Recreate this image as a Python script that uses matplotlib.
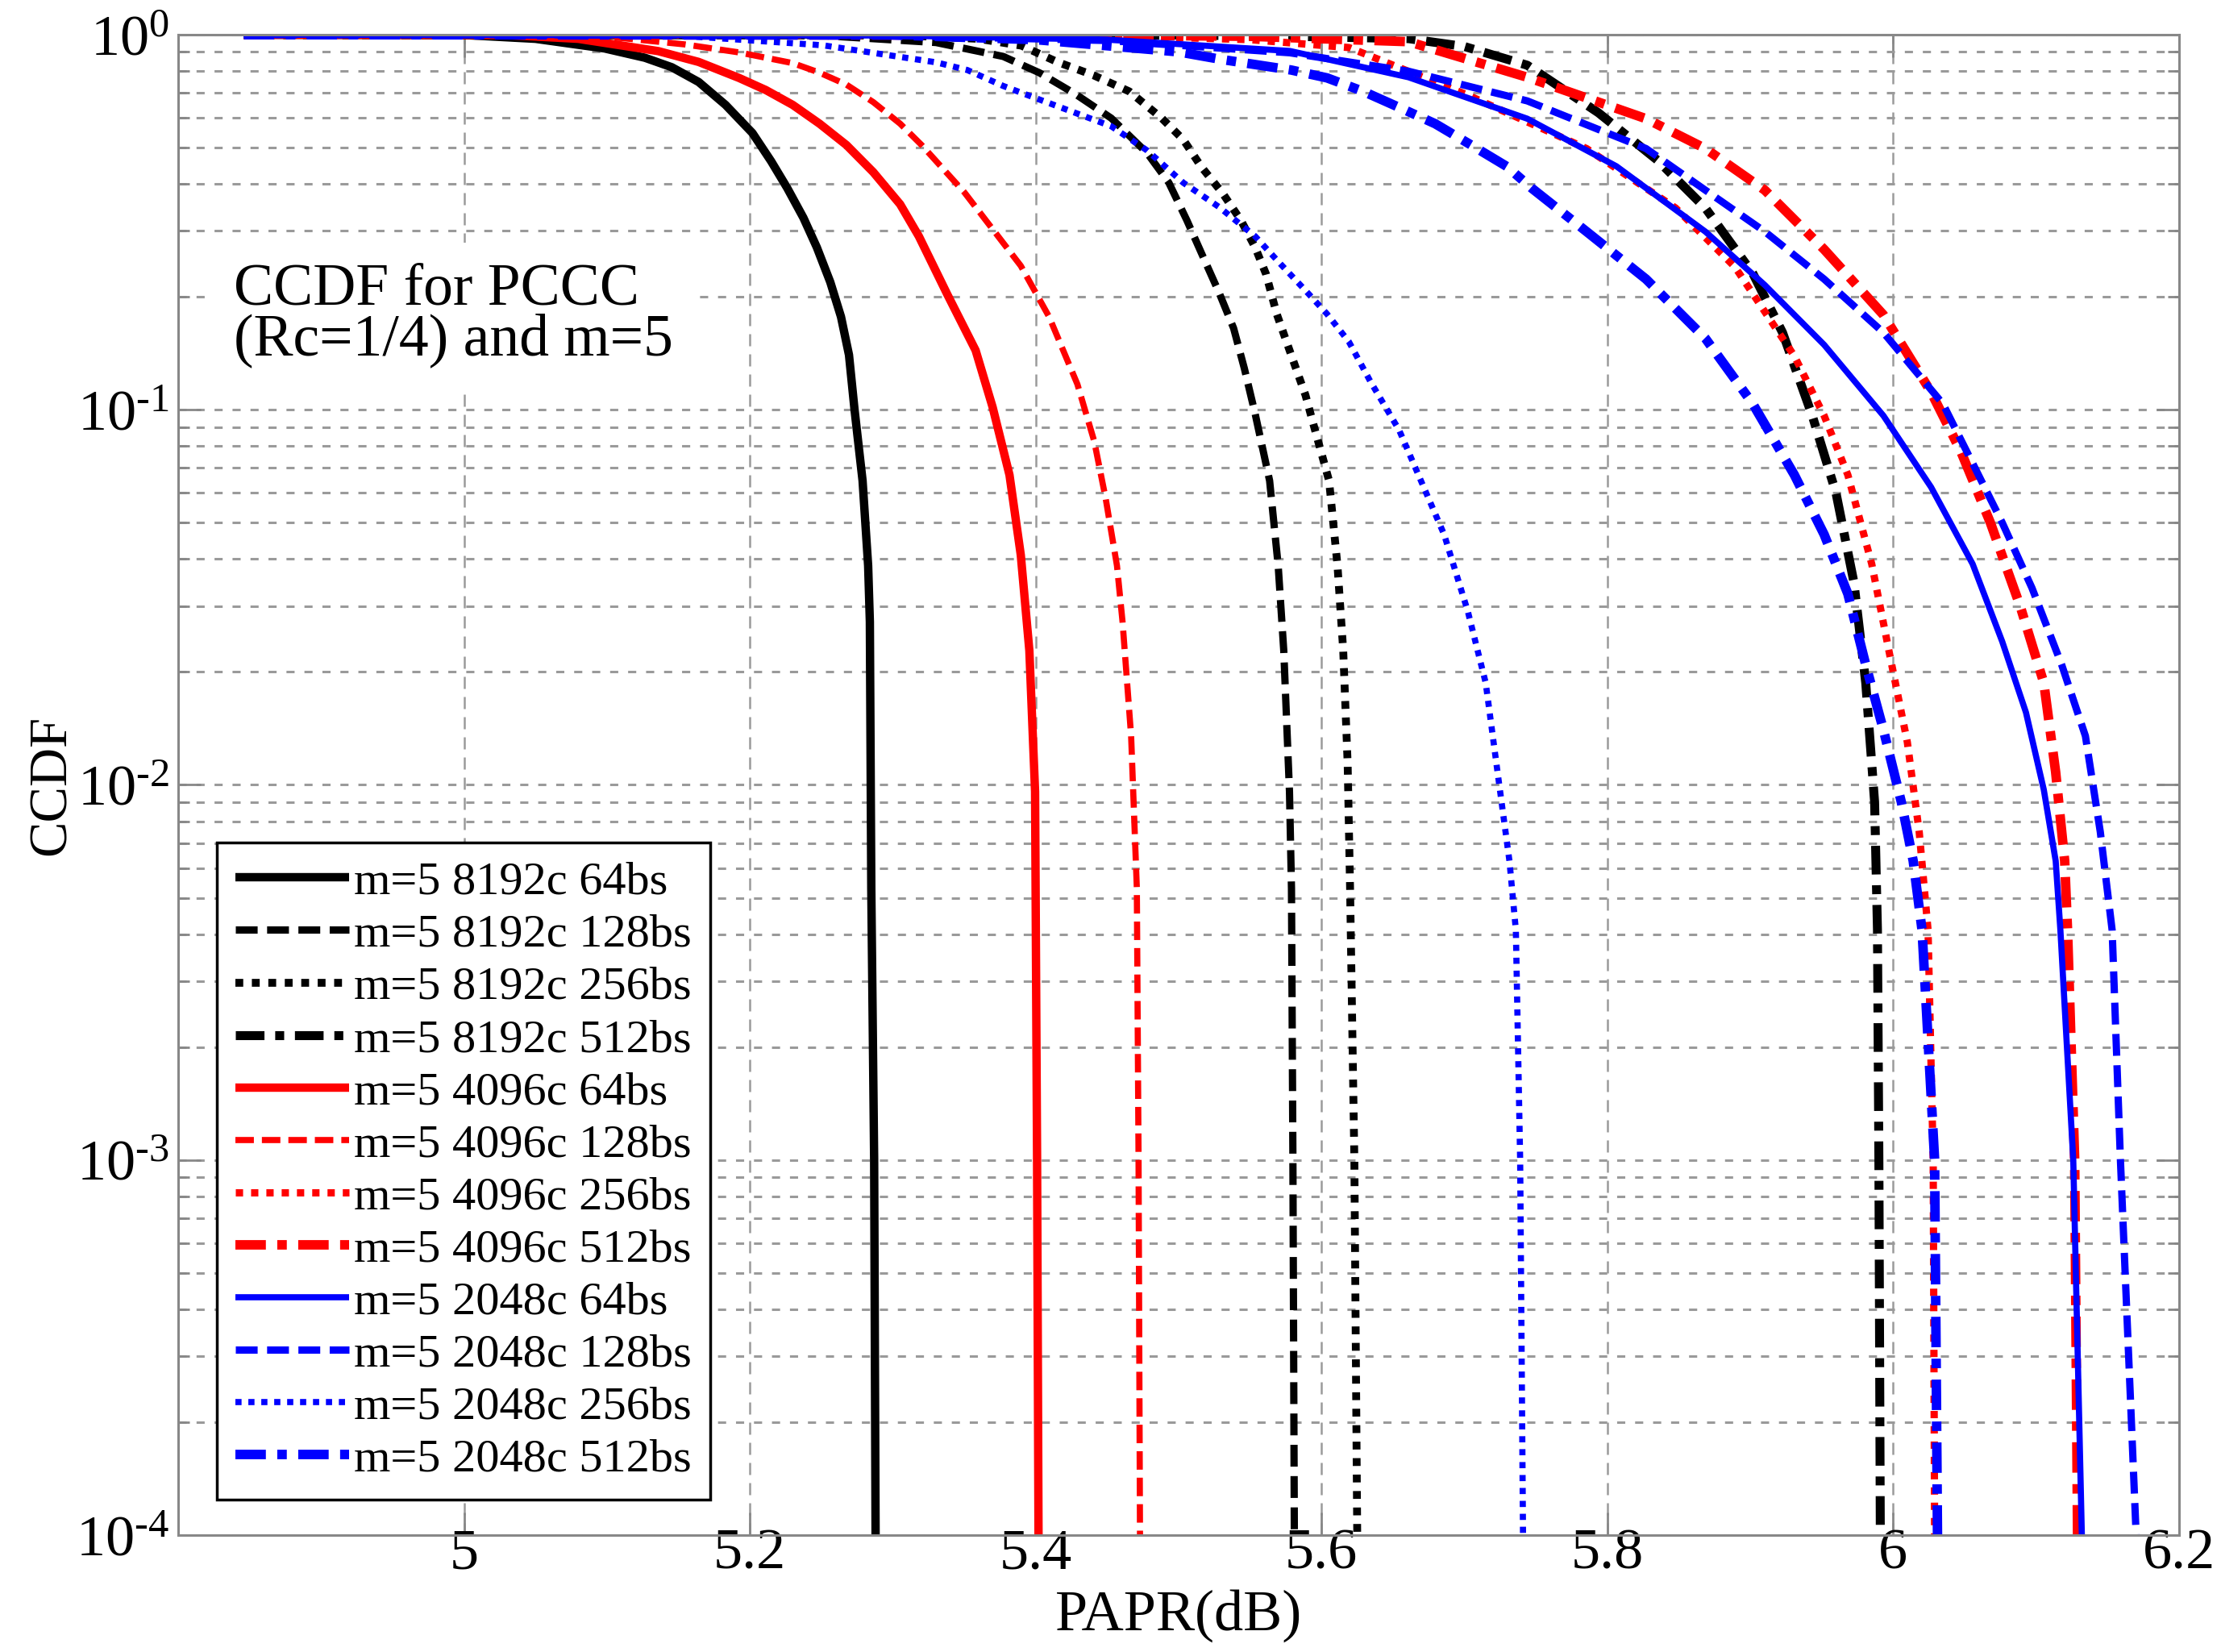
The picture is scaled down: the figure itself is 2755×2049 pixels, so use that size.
import matplotlib
matplotlib.use("Agg")
import matplotlib.pyplot as plt
from matplotlib.ticker import FixedLocator, LogLocator, NullFormatter, FuncFormatter

# PAPR (dB) / CCDF pairs
x_8192_64 = [4.846, 5.00, 5.05, 5.0984, 5.1266, 5.1454, 5.1642, 5.183, 5.2018, 5.2149, 5.2262,
             5.2375, 5.2469, 5.2563, 5.2638, 5.2694, 5.2732, 5.2789, 5.2828, 5.284, 5.285,
             5.287, 5.288]
y_8192_64 = [1.0, 0.998, 0.975, 0.919, 0.868, 0.819, 0.748, 0.650, 0.547, 0.460, 0.390,
             0.325, 0.271, 0.219, 0.177, 0.140, 0.1007, 0.0647, 0.0384, 0.0272, 0.0053,
             1e-3, 1e-4]

x_8192_128 = [4.846, 5.25, 5.3303, 5.3773, 5.4025, 5.4277, 5.4529, 5.4781, 5.4932, 5.5058,
              5.5183, 5.5284, 5.5385, 5.546, 5.5536, 5.5637, 5.5697, 5.5736, 5.5776, 5.579,
              5.580, 5.581]
y_8192_128 = [1.0, 0.995, 0.953, 0.875, 0.792, 0.695, 0.599, 0.483, 0.403, 0.320,
              0.25, 0.205, 0.165, 0.129, 0.0975, 0.0647, 0.0384, 0.0228, 0.0096, 0.0053,
              1e-3, 1e-4]

x_8192_256 = [4.846, 5.30, 5.36, 5.39, 5.4151, 5.4403, 5.4655, 5.4882, 5.5033, 5.5158, 5.531,
              5.5436, 5.5536, 5.5612, 5.5687, 5.5788, 5.5888, 5.5939, 5.6053, 5.6112, 5.6152,
              5.6183, 5.62, 5.623, 5.625]
y_8192_256 = [1.0, 0.999, 0.975, 0.935, 0.846, 0.78, 0.706, 0.599, 0.525, 0.445, 0.377,
              0.320, 0.271, 0.230, 0.180, 0.140, 0.1094, 0.0928, 0.0647, 0.0384, 0.0228,
              0.0114, 0.0053, 1e-3, 1e-4]

x_8192_512 = [4.846, 5.50, 5.58, 5.6609, 5.70, 5.744, 5.7938, 5.8353, 5.8686, 5.9018, 5.9226,
              5.9434, 5.96, 5.9725, 5.9808, 5.987, 5.989, 5.990, 5.991]
y_8192_512 = [1.0, 0.998, 0.99, 0.976, 0.93, 0.829, 0.619, 0.462, 0.345, 0.231, 0.1606,
              0.0964, 0.06, 0.0347, 0.0187, 0.009, 0.0041, 1e-3, 1e-4]

x_4096_64 = [4.846, 5.03, 5.08, 5.136, 5.1642, 5.1924, 5.2112, 5.23, 5.2488, 5.2676, 5.2864,
             5.3052, 5.3183, 5.3382, 5.358, 5.3699, 5.3817, 5.3896, 5.3956, 5.3996, 5.401,
             5.402]
y_4096_64 = [1.0, 0.998, 0.975, 0.904, 0.846, 0.767, 0.712, 0.650, 0.579, 0.508, 0.430,
             0.353, 0.290, 0.203, 0.144, 0.1016, 0.067, 0.041, 0.0228, 0.0096, 1e-3, 1e-4]

x_4096_128 = [4.846, 5.06, 5.11, 5.1546, 5.1924, 5.23, 5.2488, 5.2676, 5.2864, 5.3052, 5.3202,
              5.3501, 5.3896, 5.4094, 5.4292, 5.441, 5.449, 5.4569, 5.4608, 5.4668, 5.4708,
              5.472, 5.473]
y_4096_128 = [1.0, 0.998, 0.98, 0.942, 0.897, 0.84, 0.792, 0.736, 0.661, 0.579, 0.508,
              0.38, 0.242, 0.177, 0.117, 0.0824, 0.058, 0.0384, 0.0272, 0.0135, 0.0053,
              1e-3, 1e-4]

x_4096_256 = [4.846, 5.45, 5.55, 5.6193, 5.7024, 5.7855, 5.8478, 5.8894, 5.9309, 5.9517, 5.9683,
              5.985, 5.9974, 6.0099, 6.0182, 6.0244, 6.028, 6.029]
y_4096_256 = [1.0, 0.995, 0.97, 0.924, 0.69, 0.497, 0.345, 0.24, 0.139, 0.0964, 0.067,
              0.0388, 0.0224, 0.013, 0.0075, 0.0041, 1e-3, 1e-4]

x_4096_512 = [4.846, 5.45, 5.55, 5.6609, 5.744, 5.8271, 5.8686, 5.9102, 5.9517, 5.9932, 6.0265,
              6.0473, 6.068, 6.0888, 6.1054, 6.1137, 6.12, 6.122, 6.127, 6.129]
y_4096_512 = [1.0, 0.998, 0.99, 0.958, 0.77, 0.597, 0.497, 0.385, 0.2676, 0.179, 0.1115,
              0.0775, 0.05, 0.03, 0.0187, 0.0108, 0.00627, 0.0041, 1e-3, 1e-4]

x_2048_64 = [4.846, 5.30, 5.45, 5.5778, 5.6609, 5.744, 5.8063, 5.8686, 5.9102, 5.9517, 5.9932,
             6.0265, 6.0556, 6.0763, 6.0929, 6.1054, 6.1137, 6.117, 6.126, 6.132]
y_2048_64 = [1.0, 0.995, 0.97, 0.905, 0.77, 0.597, 0.446, 0.2985, 0.215, 0.149, 0.0964,
             0.0622, 0.0388, 0.0241, 0.0156, 0.0097, 0.00627, 0.0041, 1e-3, 1e-4]

x_2048_128 = [4.846, 5.30, 5.45, 5.5778, 5.6609, 5.744, 5.8271, 5.8686, 5.9102, 5.9517, 5.9932,
              6.0348, 6.0556, 6.0763, 6.0971, 6.1179, 6.1345, 6.1449, 6.1532, 6.159, 6.170]
y_2048_128 = [1.0, 0.995, 0.965, 0.895, 0.799, 0.666, 0.497, 0.385, 0.2985, 0.223, 0.1606,
              0.1037, 0.072, 0.05, 0.0335, 0.0209, 0.0135, 0.0075, 0.0041, 1e-3, 1e-4]

x_2048_256 = [4.846, 5.15, 5.2512, 5.3303, 5.3522, 5.3773, 5.4025, 5.4277, 5.4529, 5.4781,
              5.5033, 5.5284, 5.5536, 5.5712, 5.5888, 5.6039, 5.6191, 5.6342, 5.6543, 5.6858,
              5.7024, 5.7149, 5.7232, 5.7315, 5.736, 5.739, 5.741]
y_2048_256 = [1.0, 0.995, 0.937, 0.844, 0.805, 0.730, 0.672, 0.619, 0.570, 0.491,
              0.403, 0.347, 0.290, 0.245, 0.208, 0.180, 0.152, 0.119, 0.0883, 0.0465,
              0.029, 0.0187, 0.0108, 0.00627, 0.0041, 1e-3, 1e-4]

x_2048_512 = [4.846, 5.30, 5.40, 5.50, 5.5284, 5.5788, 5.6039, 5.6292, 5.6543, 5.6795, 5.7047,
              5.7298, 5.747, 5.7855, 5.8271, 5.8686, 5.9018, 5.9309, 5.9517, 5.9683, 5.9808,
              5.9932, 6.0057, 6.014, 6.0202, 6.029, 6.031]
y_2048_512 = [1.0, 0.998, 0.97, 0.90, 0.861, 0.805, 0.767, 0.706, 0.64, 0.579, 0.508,
              0.445, 0.39, 0.2985, 0.223, 0.155, 0.1037, 0.067, 0.0465, 0.0323, 0.0209,
              0.014, 0.009, 0.00627, 0.0041, 1e-3, 1e-4]

labels = ["m=5 8192c 64bs", "m=5 8192c 128bs", "m=5 8192c 256bs", "m=5 8192c 512bs",
          "m=5 4096c 64bs", "m=5 4096c 128bs", "m=5 4096c 256bs", "m=5 4096c 512bs",
          "m=5 2048c 64bs", "m=5 2048c 128bs", "m=5 2048c 256bs", "m=5 2048c 512bs"]
xs = [x_8192_64, x_8192_128, x_8192_256, x_8192_512,
      x_4096_64, x_4096_128, x_4096_256, x_4096_512,
      x_2048_64, x_2048_128, x_2048_256, x_2048_512]
ys = [y_8192_64, y_8192_128, y_8192_256, y_8192_512,
      y_4096_64, y_4096_128, y_4096_256, y_4096_512,
      y_2048_64, y_2048_128, y_2048_256, y_2048_512]

x_ticks = [5.0, 5.2, 5.4, 5.6, 5.8, 6.0, 6.2]
x_tick_labels = ["5", "5.2", "5.4", "5.6", "5.8", "6", "6.2"]

plt.rcParams["font.family"] = ["Liberation Serif", "DejaVu Serif"]
plt.rcParams["mathtext.fontset"] = "custom"
plt.rcParams["mathtext.rm"] = "Liberation Serif"
plt.rcParams["mathtext.it"] = "Liberation Serif:italic"

colors = ["black"] * 4 + ["red"] * 4 + ["blue"] * 4
dashes = [None, (3.0, 1.3), (1.0, 1.1), (3.2, 1.2, 1.0, 1.2)] * 3
widths = [7.5, 6.5, 7.0, 8.0, 7.5, 5.5, 6.5, 8.5, 5.5, 6.5, 5.5, 8.5]

fig = plt.figure(figsize=(27.55, 20.49), dpi=100)
ax = fig.add_axes([0.0802, 0.0708, 0.9009, 0.9082])

for x, y, lab, c, d, w in zip(xs, ys, labels, colors, dashes, widths):
    if d is None:
        ax.semilogy(x, y, color=c, lw=w, label=lab, solid_capstyle="butt")
    else:
        ax.semilogy(x, y, color=c, lw=w, dashes=d, label=lab)


def decade_label(v, pos):
    # 10^n with a plain hyphen in the exponent, as in the original
    return r"$\mathdefault{10^{\text{%d}}}$" % round(__import__("math").log10(v))


ax.set_xlim(4.8, 6.2)
ax.set_ylim(1e-4, 1)
ax.xaxis.set_major_locator(FixedLocator(x_ticks))
ax.set_xticklabels(x_tick_labels)
ax.yaxis.set_major_locator(LogLocator(base=10, numticks=10))
ax.yaxis.set_major_formatter(FuncFormatter(decade_label))
ax.yaxis.set_minor_locator(LogLocator(base=10, subs=range(2, 10), numticks=20))
ax.yaxis.set_minor_formatter(NullFormatter())

gcol = "#9a9a9a"
ax.yaxis.grid(True, which="both", color=gcol, lw=2.2, dashes=(3.3, 4.0))
ax.xaxis.grid(True, which="major", color=gcol, lw=1.8, dashes=(6, 4))
ax.set_axisbelow(True)

for s in ax.spines.values():
    s.set_color("#888888")
    s.set_linewidth(2.2)
ax.tick_params(which="major", direction="in", length=20, width=2, color="#888888",
               top=True, right=True, labelsize=52)
ax.tick_params(which="minor", direction="in", length=10, width=2, color="#888888",
               right=True)
ax.tick_params(axis="x", pad=-6)
ax.tick_params(axis="y", pad=8)

ax.set_xlabel("PAPR(dB)", fontsize=52)
ax.xaxis.set_label_coords(0.5, -0.036)
ax.set_ylabel("CCDF", fontsize=48)
ax.yaxis.set_label_coords(-0.051, 0.5)

ax.text(0.0278, 0.848, "CCDF for PCCC\n(Rc=1/4) and m=5", transform=ax.transAxes,
        fontsize=53, va="top", ha="left", linespacing=0.9,
        bbox=dict(facecolor="white", edgecolor="none", pad=18))

leg = ax.legend(loc="lower left", bbox_to_anchor=(0.0193, 0.0236), borderaxespad=0,
                fontsize=42, handlelength=2.42, handletextpad=0.1, labelspacing=0.21,
                borderpad=0.4, fancybox=False, framealpha=1, edgecolor="black")
leg.get_frame().set_linewidth(2.5)

fig.savefig("out.png", dpi=100)
